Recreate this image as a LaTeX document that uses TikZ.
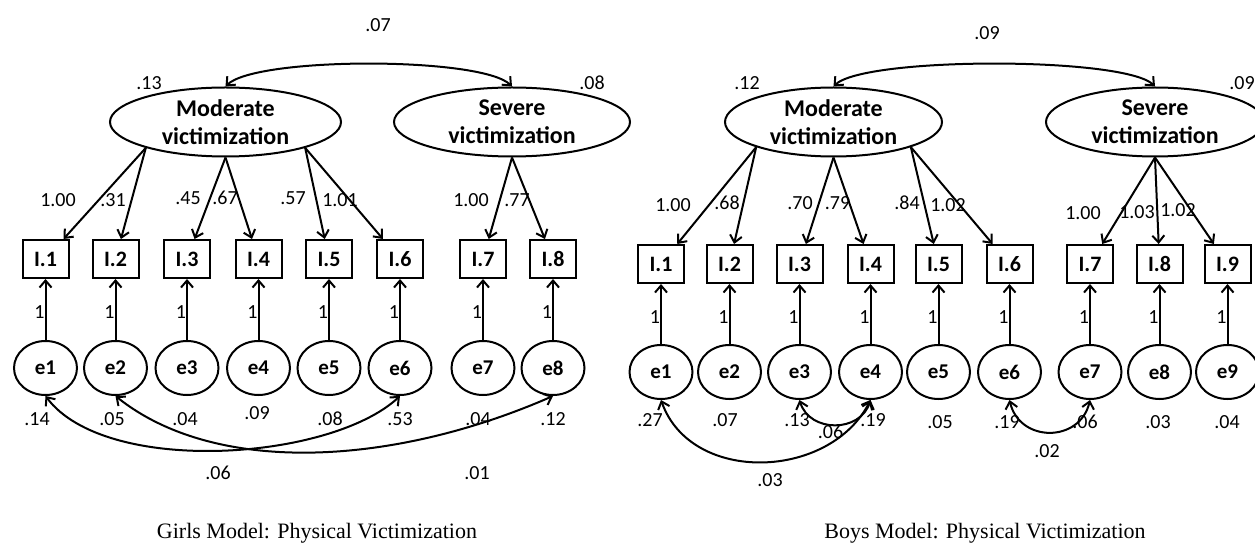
\documentclass[tikz,border=0pt]{standalone}
\usepackage{fontspec}
\setmainfont{Carlito}
\newfontfamily\capfont{Liberation Serif}
\usetikzlibrary{shapes.geometric,arrows.meta,positioning}

\tikzset{
  latent/.style={ellipse,draw,inner sep=0pt,align=center,minimum height=69pt,font=\fontsize{24}{28}\selectfont\bfseries},
  obs/.style={rectangle,draw,inner sep=0pt,minimum width=46pt,minimum height=38pt,font=\fontsize{22}{24}\selectfont\bfseries},
  err/.style={ellipse,draw,inner sep=0pt,minimum width=63pt,minimum height=54pt,font=\fontsize{21}{24}\selectfont\bfseries},
  est/.style={inner sep=0pt,font=\fontsize{20}{22}\selectfont},
  capt/.style={anchor=base,font=\capfont\fontsize{22}{24}\selectfont}
}

\begin{document}
\begin{tikzpicture}[->,>={Straight Barb[length=7pt,width=12pt]},line width=2pt,x=1pt,y=1pt]
\useasboundingbox (0,0) rectangle (1255,544);

% girls model
\node[latent,minimum width=231pt] (gm) at (225.5,422) {Moderate\\victimization};
\node[latent,minimum width=236pt] (gs) at (512,422) {Severe\\victimization};

\node[obs] (g1) at (45.5,285) {I.1};
\node[obs] (g2) at (115.5,285) {I.2};
\node[obs] (g3) at (187,285) {I.3};
\node[obs] (g4) at (258.5,285) {I.4};
\node[obs] (g5) at (329,285) {I.5};
\node[obs] (g6) at (400,285) {I.6};
\node[obs] (g7) at (483,285) {I.7};
\node[obs] (g8) at (553,285) {I.8};

\node[err] (ge1) [below=61pt of g1] {e1};
\node[err] (ge2) [below=61pt of g2] {e2};
\node[err] (ge3) [below=61pt of g3] {e3};
\node[err] (ge4) [below=61pt of g4] {e4};
\node[err] (ge5) [below=61pt of g5] {e5};
\node[err] (ge6) [below=61pt of g6] {e6};
\node[err] (ge7) [below=61pt of g7] {e7};
\node[err] (ge8) [below=61pt of g8] {e8};

\path
  (gm.198) edge (g1)
  (gm.198) edge (g2)
  (gm.270) edge (g3)
  (gm.270) edge (g4)
  (gm.342) edge (g5)
  (gm.342) edge (g6)
  (gs.270) edge (g7)
  (gs.270) edge (g8)
  (ge1) edge node[est,left,pos=0.45] {1} (g1)
  (ge2) edge node[est,left,pos=0.45] {1} (g2)
  (ge3) edge node[est,left,pos=0.45] {1} (g3)
  (ge4) edge node[est,left,pos=0.45] {1} (g4)
  (ge5) edge node[est,left,pos=0.45] {1} (g5)
  (ge6) edge node[est,left,pos=0.45] {1} (g6)
  (ge7) edge node[est,left,pos=0.45] {1} (g7)
  (ge8) edge node[est,left,pos=0.45] {1} (g8);

\draw[<->] (gm.north) .. controls +(30,30) and +(-30,30) .. (gs.north);
\draw[<->] (ge1.south) .. controls +(60,-80) and +(-70,-65) .. (ge6.south);
\draw[<->] (ge2.south) .. controls +(100,-80) and +(-160,-70) .. (ge8.south);

\node[est] (gcov) at (378,519) {.07};
\node[est] (gvm) at (149,461) {.13};
\node[est] (gvs) at (592,461) {.08};
\node[est] (gl1) at (58,344) {1.00};
\node[est] (gl2) at (113,344) {.31};
\node[est] (gl3) at (188,346) {.45};
\node[est] (gl4) at (225,346) {.67};
\node[est] (gl5) at (293,346) {.57};
\node[est] (gl6) at (340,344) {1.01};
\node[est] (gl7) at (471,344) {1.00};
\node[est] (gl8) at (517,344) {.77};
\node[est] (gv1) at (37,125) {.14};
\node[est] (gv2) at (112,125) {.05};
\node[est] (gv3) at (185,125) {.04};
\node[est] (gv4) at (257,131) {.09};
\node[est] (gv5) at (330,125) {.08};
\node[est] (gv6) at (400,125) {.53};
\node[est] (gv7) at (478,125) {.04};
\node[est] (gv8) at (553,125) {.12};
\node[est] (gc16) at (218,71) {.06};
\node[est] (gc28) at (477,71) {.01};
\node[capt] (gcap) at (317,6) {Girls Model: Physical Victimization};

% boys model
\node[latent,minimum width=217pt] (bm) at (833.5,422) {Moderate\\victimization};
\node[latent,minimum width=218pt] (bs) at (1155,422) {Severe\\victimization};

\node[obs] (b1) at (661,280) {I.1};
\node[obs] (b2) at (729.5,280) {I.2};
\node[obs] (b3) at (799.5,280) {I.3};
\node[obs] (b4) at (870.5,280) {I.4};
\node[obs] (b5) at (938.5,280) {I.5};
\node[obs] (b6) at (1009.5,280) {I.6};
\node[obs] (b7) at (1090,280) {I.7};
\node[obs] (b8) at (1159.5,280) {I.8};
\node[obs] (b9) at (1227.5,280) {I.9};

\node[err] (be1) [below=60pt of b1] {e1};
\node[err] (be2) [below=60pt of b2] {e2};
\node[err] (be3) [below=60pt of b3] {e3};
\node[err] (be4) [below=60pt of b4] {e4};
\node[err] (be5) [below=60pt of b5] {e5};
\node[err] (be6) [below=60pt of b6] {e6};
\node[err] (be7) [below=60pt of b7] {e7};
\node[err] (be8) [below=60pt of b8] {e8};
\node[err] (be9) [below=60pt of b9] {e9};

\path
  (bm.198) edge (b1)
  (bm.198) edge (b2)
  (bm.270) edge (b3)
  (bm.270) edge (b4)
  (bm.342) edge (b5)
  (bm.342) edge (b6)
  (bs.270) edge (b7)
  (bs.270) edge (b8)
  (bs.270) edge (b9)
  (be1) edge node[est,left,pos=0.45] {1} (b1)
  (be2) edge node[est,left,pos=0.45] {1} (b2)
  (be3) edge node[est,left,pos=0.45] {1} (b3)
  (be4) edge node[est,left,pos=0.45] {1} (b4)
  (be5) edge node[est,left,pos=0.45] {1} (b5)
  (be6) edge node[est,left,pos=0.45] {1} (b6)
  (be7) edge node[est,left,pos=0.45] {1} (b7)
  (be8) edge node[est,left,pos=0.45] {1} (b8)
  (be9) edge node[est,left,pos=0.45] {1} (b9);

\draw[<->] (bm.north) .. controls +(30,30) and +(-30,30) .. (bs.north);
\draw[<->] (be1.south) .. controls +(30,-85) and +(-40,-80) .. (be4.south);
\draw[<->] (be3.south) .. controls +(10,-33) and +(-10,-33) .. (be4.south);
\draw[<->] (be6.south) .. controls +(10,-43) and +(-10,-43) .. (be7.south);

\node[est] (bcov) at (987,511) {.09};
\node[est] (bvm) at (747,461) {.12};
\node[est] (bvs) at (1242,461) {.09};
\node[est] (bl1) at (673,339) {1.00};
\node[est] (bl2) at (727,341) {.68};
\node[est] (bl3) at (800,341) {.70};
\node[est] (bl4) at (837.5,341) {.79};
\node[est] (bl5) at (907,341) {.84};
\node[est] (bl6) at (948,339) {1.02};
\node[est] (bl7) at (1083,331) {1.00};
\node[est] (bl8) at (1137,332) {1.03};
\node[est] (bl9) at (1178,334) {1.02};
\node[est] (bv1) at (650,124) {.27};
\node[est] (bv2) at (725,124) {.07};
\node[est] (bv3) at (797,124) {.13};
\node[est] (bv4) at (873,124) {.19};
\node[est] (bv5) at (940,122) {.05};
\node[est] (bv6) at (1007,122) {.19};
\node[est] (bv7) at (1085,122) {.06};
\node[est] (bv8) at (1158,122) {.03};
\node[est] (bv9) at (1227,122) {.04};
\node[est] (bc34) at (830.6,112) {.06};
\node[est] (bc14) at (770,64) {.03};
\node[est] (bc67) at (1047,93) {.02};
\node[capt] (bcap) at (985,6) {Boys Model: Physical Victimization};
\end{tikzpicture}
\end{document}
